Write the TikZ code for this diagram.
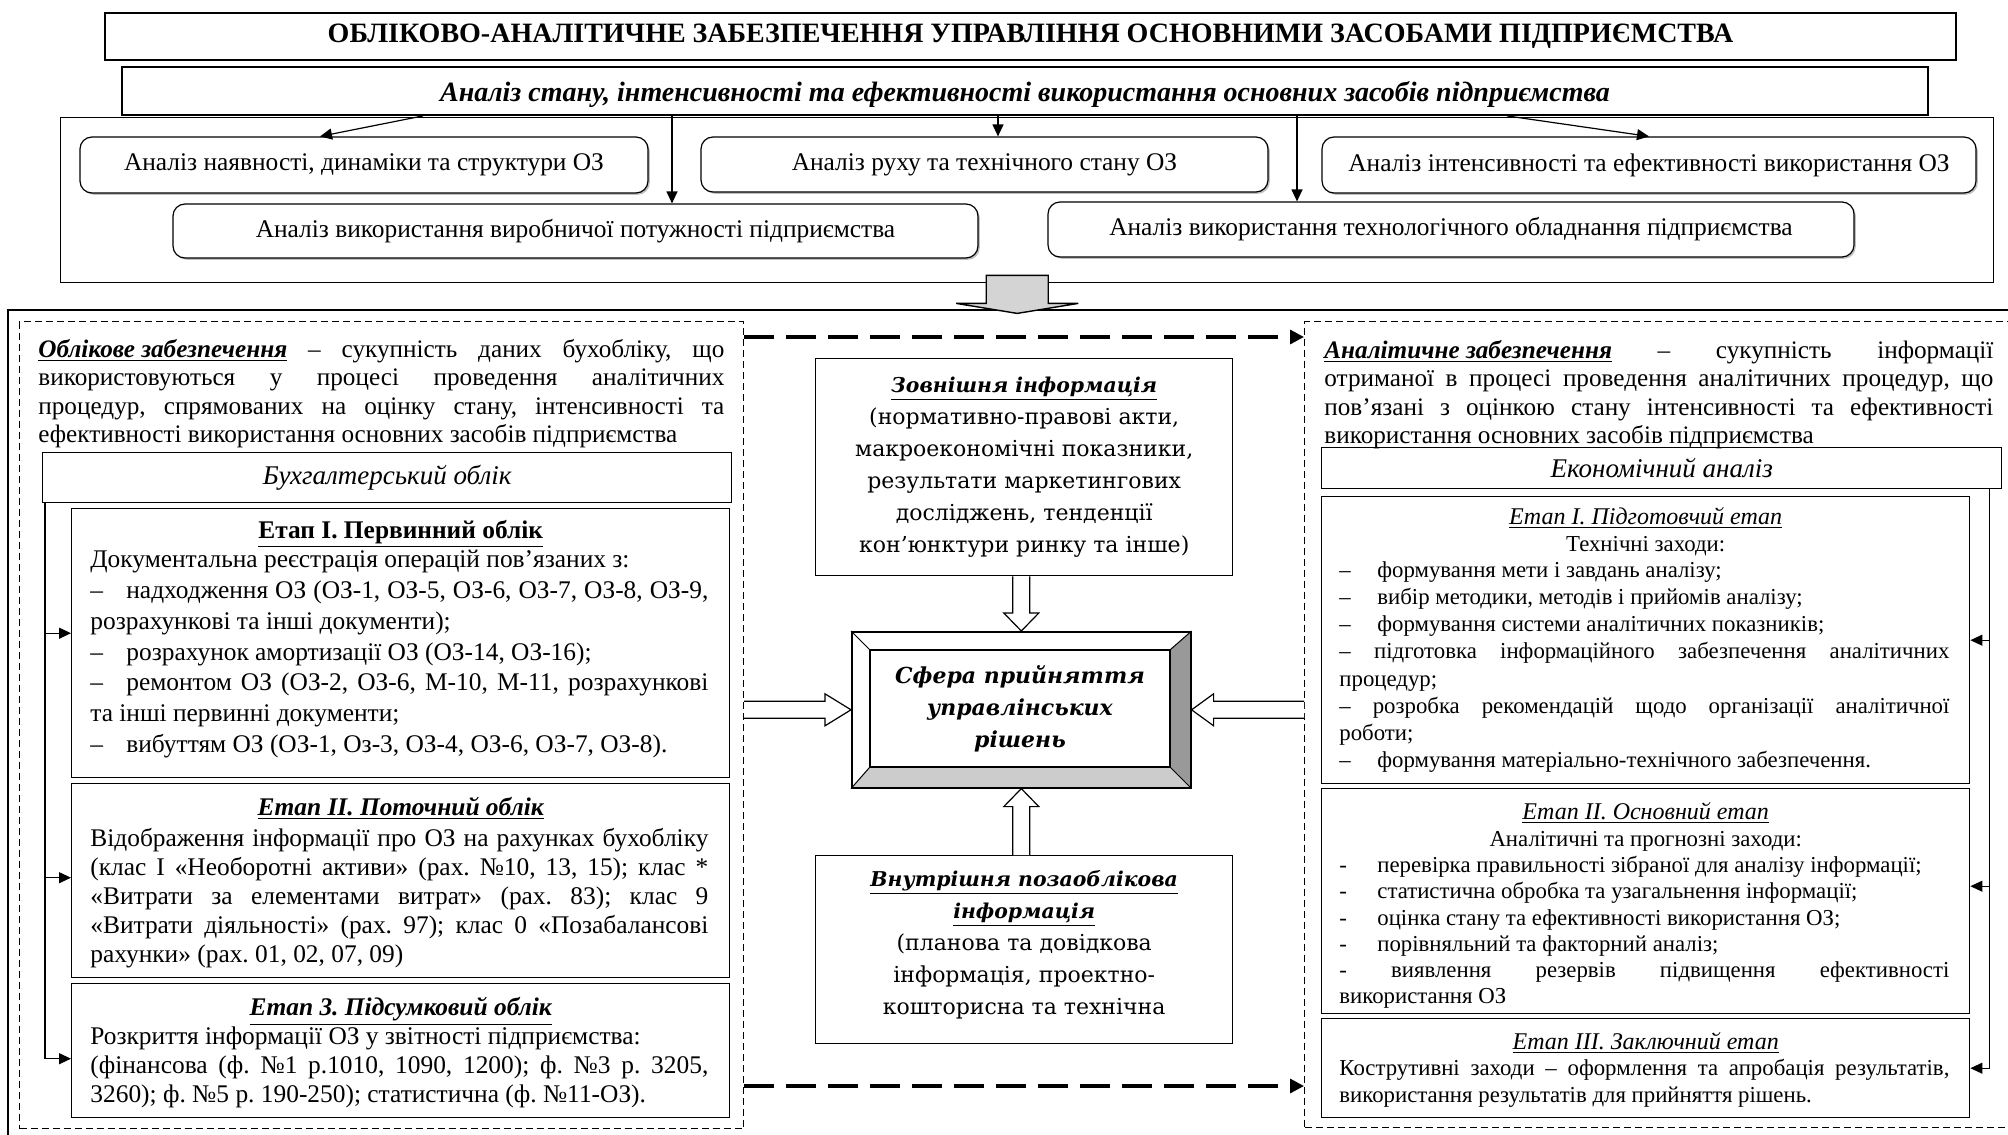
\documentclass[tikz,border=0pt]{standalone}
\usepackage{fontspec}
\setmainfont{Liberation Serif}
\newfontfamily\centrefont{DejaVu Serif}
\usetikzlibrary{arrows.meta,positioning,calc,shadows,backgrounds}
\setlength{\parindent}{0pt}
\frenchspacing
\newcommand{\ldash}{\makebox[18pt][l]{–}}
\newcommand{\rdash}{\makebox[19pt][l]{–}}
\newcommand{\rhyph}{\makebox[19pt][l]{-}}

\tikzset{
  titlebox/.style={draw, line width=1.4pt, inner sep=0pt, minimum width=925.5pt, minimum height=23.5pt, font=\fontsize{14}{16}\selectfont\bfseries},
  subbox/.style={draw, line width=0.9pt, inner sep=0pt, minimum width=903pt, minimum height=24pt, text depth=0pt, font=\fontsize{14}{15}\selectfont\bfseries\itshape},
  anbox/.style={draw, fill=white, rounded corners=6pt, line width=0.6pt, inner sep=0pt, minimum height=28pt, font=\fontsize{12.7}{14}\selectfont, drop shadow={shadow xshift=0.9pt, shadow yshift=-0.9pt}},
  plainbox/.style={draw, line width=0.7pt, inner sep=0pt, anchor=north west},
  dashbox/.style={draw, line width=0.5pt, dash pattern=on 3.5pt off 2pt, inner sep=0pt, anchor=north west},
  partext/.style={inner sep=0pt, align=justify, font=\fontsize{12.6}{14.2}\selectfont},
  ltext/.style={inner sep=0pt, align=justify, text width=309pt, font=\fontsize{12.7}{15.4}\selectfont},
  rtext/.style={inner sep=0pt, align=justify, text width=305pt, font=\fontsize{11.4}{13.6}\selectfont},
  lhead/.style={inner sep=0pt, align=center, font=\fontsize{12.7}{15}\selectfont},
  rhead/.style={inner sep=0pt, align=center, font=\fontsize{11.4}{13.5}\selectfont},
  ctext/.style={inner sep=0pt, align=center, font=\centrefont\fontsize{11}{16}\selectfont},
  arr/.style={line width=0.6pt, -{Triangle[length=6pt,width=5.5pt]}},
  flowdash/.style={line width=1.6pt, dash pattern=on 15pt off 6pt, -{Triangle[length=7pt,width=7pt]}},
  blockarr/.style={draw, fill=white, line width=0.6pt, line join=miter}
}

\begin{document}
\begin{tikzpicture}[x=0.5pt,y=-0.5pt]
\useasboundingbox (0,0) rectangle (2008,1135);

% analysis block on top
\node[titlebox] (title) at (1030.5,36.5) {ОБЛІКОВО-АНАЛІТИЧНЕ ЗАБЕЗПЕЧЕННЯ УПРАВЛІННЯ ОСНОВНИМИ ЗАСОБАМИ ПІДПРИЄМСТВА};
\node[plainbox, minimum width=966.5pt, minimum height=82.5pt] (anframe) at (60,117) {};
\node[subbox] (sub) at (1025,91) {Аналіз стану, інтенсивності та ефективності використання основних засобів підприємства};

\node[anbox, minimum width=284pt] (anA) at (364,165) {Аналіз наявності, динаміки та структури ОЗ};
\node[anbox, minimum width=283.5pt, minimum height=27.5pt] (anB) at (984.5,164.5) {Аналіз руху та технічного стану ОЗ};
\node[anbox, minimum width=327pt] (anC) at (1649,165) {Аналіз інтенсивності та ефективності використання ОЗ};
\node[anbox, minimum width=402.5pt, minimum height=27pt] (anD) at (575.5,231) {Аналіз використання виробничої потужності підприємства};
\node[anbox, minimum width=403pt, minimum height=27.5pt] (anE) at (1451,229.5) {Аналіз використання технологічного обладнання підприємства};

\draw[arr] ($(sub.south)+(-602,0)$) -- ($(anA.north)+(-44,0)$);
\draw[arr] ($(sub.south)+(-353,0)$) -- ($(anD.north)+(96.5,0)$);
\draw[arr] ($(sub.south)+(-27,0)$) -- ($(anB.north)+(13.5,0)$);
\draw[arr] ($(sub.south)+(272,0)$) -- ($(anE.north)+(-154,0)$);
\draw[arr] ($(sub.south)+(482,0)$) -- (anC.north);

% outer frame and gray arrow
\draw[line width=0.8pt] (8,1140) -- (8,310) -- (2015,310);
\coordinate (bigtip) at ($(anframe.south)+(-10,30)$);
\draw[fill=black!17, line width=0.7pt] ($(bigtip)+(-31,-38)$) -- ++(62,0) -- ++(0,28) -- ++(30,0) -- (bigtip) -- ++(-61,-10) -- ++(30,0) -- cycle;

% accounting side
\node[dashbox, minimum width=362pt, minimum height=403.5pt] (lbox) at (19,321) {};
\node[partext, text width=343pt, below right=9pt and 9.5pt of lbox.north west] (lpar) {\underline{\textbf{\textit{Облікове забезпечення}}} – сукупність даних бухобліку, що\linebreak використовуються у процесі проведення аналітичних\linebreak процедур, спрямованих на оцінку стану, інтенсивності та\linebreak ефективності використання основних засобів підприємства};
\node[plainbox, minimum width=344.5pt, minimum height=25pt, font=\fontsize{13.5}{14}\selectfont\itshape] (buh) at (42,452) {Бухгалтерський облік};
\node[plainbox, minimum width=329pt, minimum height=134.5pt] (lE1) at (71,508) {};
\node[plainbox, minimum width=329pt, minimum height=97pt] (lE2) at (71,783) {};
\node[plainbox, minimum width=329pt, minimum height=67pt] (lE3) at (71,983) {};

\node[lhead, below=6pt of lE1.north] (lE1h) {\textbf{\underline{Етап І. Первинний облік}}};
\node[ltext, below right=21pt and 9.5pt of lE1.north west] (lE1t) {Документальна реєстрація операцій пов’язаних з:\\
\ldash надходження ОЗ (ОЗ-1, ОЗ-5, ОЗ-6, ОЗ-7, ОЗ-8, ОЗ-9,\linebreak
розрахункові та інші документи);\\
\ldash розрахунок амортизації ОЗ (ОЗ-14, ОЗ-16);\\
\ldash ремонтом ОЗ (ОЗ-2, ОЗ-6, М-10, М-11, розрахункові\linebreak
та інші первинні документи;\\
\ldash вибуттям ОЗ (ОЗ-1, Оз-3, ОЗ-4, ОЗ-6, ОЗ-7, ОЗ-8).};

\node[lhead, below=7pt of lE2.north] (lE2h) {\textbf{\textit{\underline{Етап ІІ. Поточний облік}}}};
\node[ltext, font=\fontsize{12.7}{14.5}\selectfont, below right=22.5pt and 9.5pt of lE2.north west] (lE2t) {Відображення інформації про ОЗ на рахунках бухобліку\linebreak
(клас І «Необоротні активи» (рах. №10, 13, 15); клас *\linebreak
«Витрати за елементами витрат» (рах. 83); клас 9\linebreak
«Витрати діяльності» (рах. 97); клас 0 «Позабалансові\linebreak
рахунки» (рах. 01, 02, 07, 09)};

\node[lhead, below=7pt of lE3.north] (lE3h) {\textbf{\textit{\underline{Етап 3. Підсумковий облік}}}};
\node[ltext, font=\fontsize{12.7}{14.7}\selectfont, below right=21.5pt and 9.5pt of lE3.north west] (lE3t) {Розкриття інформації ОЗ у звітності підприємства:\\
(фінансова (ф. №1 р.1010, 1090, 1200); ф. №3 р. 3205,\linebreak
3260); ф. №5 р. 190-250); статистична (ф. №11-ОЗ).};

\coordinate (lspine) at ($(buh.south west)+(3,0)$);
\draw[arr] (lspine) |- ($(lE3.west)+(0,8)$);
\draw[arr] (lspine |- lE1.west) ++(0,-10) -- ($(lE1.west)+(0,-10)$);
\draw[arr] (lspine |- lE2.west) ++(0,-3) -- ($(lE2.west)+(0,-3)$);

% analytical side
\node[dashbox, minimum width=358pt, minimum height=403pt] (rbox) at (1304,321) {};
\node[partext, text width=334.5pt, below right=9.5pt and 10pt of rbox.north west] (rpar) {\underline{\textbf{\textit{Аналітичне забезпечення}}} – сукупність інформації\linebreak отриманої в процесі проведення аналітичних процедур, що\linebreak пов’язані з оцінкою стану інтенсивності та ефективності\linebreak використання основних засобів підприємства};
\node[plainbox, minimum width=340pt, minimum height=20.5pt, font=\fontsize{13.5}{14}\selectfont\itshape] (ek) at (1321,447) {Економічний аналіз};
\node[plainbox, minimum width=324pt, minimum height=143.5pt] (rE1) at (1321,496) {};
\node[plainbox, minimum width=324pt, minimum height=112.5pt] (rE2) at (1321,788) {};
\node[plainbox, minimum width=324pt, minimum height=49.5pt] (rE3) at (1321,1018) {};

\node[rhead, below=5.5pt of rE1.north] (rE1h) {{\fontsize{12}{13.5}\selectfont\textit{\underline{Етап І. Підготовчий етап}}}\\Технічні заходи:};
\node[rtext, below right=32.5pt and 9pt of rE1.north west] (rE1t) {\rdash формування мети і завдань аналізу;\\
\rdash вибір методики, методів і прийомів аналізу;\\
\rdash формування системи аналітичних показників;\\
– підготовка інформаційного забезпечення аналітичних\linebreak
процедур;\\
– розробка рекомендацій щодо організації аналітичної\linebreak
роботи;\\
\rdash формування матеріально-технічного забезпечення.};

\node[rhead, below=7pt of rE2.north] (rE2h) {{\fontsize{12}{13.5}\selectfont\textit{\underline{Етап ІІ. Основний етап}}}\\Аналітичні та прогнозні заходи:};
\node[rtext, font=\fontsize{11.4}{13.1}\selectfont, below right=34pt and 9pt of rE2.north west] (rE2t) {\rhyph перевірка правильності зібраної для аналізу інформації;\\
\rhyph статистична обробка та узагальнення інформації;\\
\rhyph оцінка стану та ефективності використання ОЗ;\\
\rhyph порівняльний та факторний аналіз;\\
- виявлення резервів підвищення ефективності\linebreak
використання ОЗ};

\node[rhead, font=\fontsize{12}{13.5}\selectfont, below=7pt of rE3.north] (rE3h) {\textit{\underline{Етап ІІІ. Заключний етап}}};
\node[rtext, below right=20.5pt and 9pt of rE3.north west] (rE3t) {Кострутивні заходи – оформлення та апробація результатів,\linebreak
використання результатів для прийняття рішень.};

\coordinate (rspine) at ($(ek.south east)+(-13,0)$);
\draw[arr] (rspine) |- (rE3.east);
\draw[arr] (rspine |- rE1.east) -- (rE1.east);
\draw[arr] (rspine |- rE2.east) ++(0,-15) -- ($(rE2.east)+(0,-15)$);

% decision sphere in the middle
\node[plainbox, minimum width=208.5pt, minimum height=108.5pt, align=center, font=\centrefont\fontsize{11}{16}\selectfont] (ext) at (815,358) {{\fontsize{10.2}{16}\selectfont\textbf{\textit{\underline{Зовнішня інформація}}}}\\(нормативно-правові акти,\\макроекономічні показники,\\результати маркетингових\\досліджень, тенденції\\кон’юнктури ринку та інше)};
\node[plainbox, line width=0.8pt, minimum width=169.5pt, minimum height=78pt] (sfera) at (851,631) {};
\node[plainbox, fill=white, line width=0.6pt, minimum width=150pt, minimum height=58.5pt, anchor=center, align=center, font=\centrefont\fontsize{11}{16}\selectfont\bfseries\itshape] (sferain) at (1020,708.5) {Сфера прийняття\\управлінських\\рішень};
\begin{scope}[on background layer]
  \fill[black!40] (sfera.north east) -- (sferain.north east) -- (sferain.south east) -- (sfera.south east) -- cycle;
  \fill[black!20] (sfera.south west) -- (sferain.south west) -- (sferain.south east) -- (sfera.south east) -- cycle;
\end{scope}
\draw[line width=0.5pt] (sfera.north west) -- (sferain.north west) (sfera.north east) -- (sferain.north east)
  (sfera.south west) -- (sferain.south west) (sfera.south east) -- (sferain.south east);
\node[plainbox, minimum width=208.5pt, minimum height=94pt] (int) at (815,855) {};
\node[ctext, below=7.5pt of int.north] (intt) {{\fontsize{10.2}{16}\selectfont\textbf{\textit{\underline{Внутрішня позаоблікова}}}}\\{\fontsize{10.2}{16}\selectfont\textbf{\textit{\underline{інформація}}}}\\(планова та довідкова\\інформація, проектно-\\кошторисна та технічна};

% hollow arrows into the sphere
\draw[blockarr] ($(ext.south -| sfera.north)+(-8.5,0)$) -- ($(sfera.north)+(-8.5,-18)$) -- ($(sfera.north)+(-17.5,-18)$) -- (sfera.north) -- ($(sfera.north)+(17.5,-18)$) -- ($(sfera.north)+(8.5,-18)$) -- ($(ext.south -| sfera.north)+(8.5,0)$);
\draw[blockarr] ($(int.north -| sfera.south)+(-8.5,0)$) -- ($(sfera.south)+(-8.5,18)$) -- ($(sfera.south)+(-17.5,18)$) -- (sfera.south) -- ($(sfera.south)+(17.5,18)$) -- ($(sfera.south)+(8.5,18)$) -- ($(int.north -| sfera.south)+(8.5,0)$);
\draw[blockarr] ($(sfera.west -| lbox.east)+(0,-8.5)$) -- ($(sfera.west)+(-26,-8.5)$) -- ($(sfera.west)+(-26,-16)$) -- (sfera.west) -- ($(sfera.west)+(-26,16)$) -- ($(sfera.west)+(-26,8.5)$) -- ($(sfera.west -| lbox.east)+(0,8.5)$);
\draw[blockarr] ($(sfera.east -| rbox.west)+(0,-8.5)$) -- ($(sfera.east)+(22,-8.5)$) -- ($(sfera.east)+(22,-16)$) -- (sfera.east) -- ($(sfera.east)+(22,16)$) -- ($(sfera.east)+(22,8.5)$) -- ($(sfera.east -| rbox.west)+(0,8.5)$);

% dashed links between the two sides
\draw[flowdash] ($(lbox.north east)+(0,16)$) -- ($(rbox.north west)+(0,16)$);
\draw[flowdash] ($(lbox.south east)+(0,-43)$) -- ($(rbox.south west)+(0,-42)$);
\end{tikzpicture}
\end{document}
